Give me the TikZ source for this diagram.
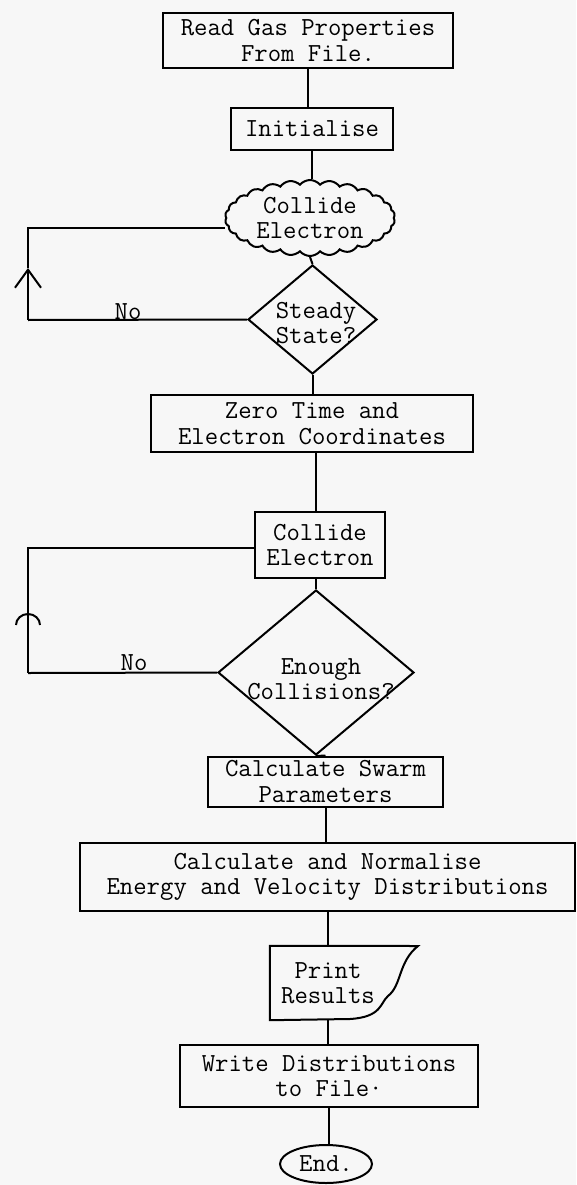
\documentclass[tikz,border=0pt]{standalone}
\usepackage{fontspec}
\usetikzlibrary{arrows.meta, shapes.geometric, shapes.symbols}

\tikzset{
  caja/.style={draw, line width=2pt, inner sep=0pt, align=center},
  rombo/.style={draw, diamond, line width=2pt, inner sep=0pt},
  texto/.style={inner sep=0pt, align=center},
  linea/.style={line width=2pt},
}

\begin{document}
\begin{tikzpicture}[x=1pt, y=-1pt, font=\ttfamily\fontsize{26}{25.5}\selectfont]
  \useasboundingbox (0,0) rectangle (576,1185);
  \fill[black!3] (0,0) rectangle (576,1185);

  % Dibujar nodos
  \node[caja, minimum width=290pt, minimum height=55pt] (leer) at (308,40.5) {Read Gas Properties\\From File.};
  \node[caja, minimum width=162pt, minimum height=42pt] (inicio) at (312,129) {Initialise};
  \node[caja, cloud, cloud puffs=26, cloud puff arc=100, cloud ignores aspect,
        minimum width=170pt, minimum height=76pt] (choque) at (310,218) {Collide\\Electron};
  \node[rombo, minimum width=129pt, minimum height=109pt] (estable) at (312.5,319.5) {};
  \node[texto] (establetxt) at (316,323) {Steady\\State?};
  \node[caja, minimum width=322pt, minimum height=57pt] (cero) at (312,423.5) {Zero Time and\\Electron Coordinates};
  \node[caja, minimum width=130pt, minimum height=66pt] (choque2) at (320,545) {Collide\\Electron};
  \node[rombo, minimum width=196pt, minimum height=165pt] (bastante) at (316,672.5) {};
  \node[texto] (bastantetxt) at (321,679) {Enough\\Collisions?};
  \node[caja, minimum width=235pt, minimum height=50pt] (enjambre) at (325.5,781.5) {Calculate Swarm\\Parameters};
  \node[caja, minimum width=495pt, minimum height=68pt] (normal) at (327.5,877) {Calculate and Normalise\\Energy and Velocity Distributions};
  \node[texto, minimum width=116pt, minimum height=74pt] (imprimir) at (328,983) {Print\\Results};
  \node[caja, minimum width=298pt, minimum height=62pt] (escribir) at (329,1076) {Write Distributions\\to File·};
  \node[caja, ellipse, minimum width=92pt, minimum height=38pt] (fin) at (326,1164) {End.};

  % Hoja de impresion
  \draw[linea] (imprimir.north west) -- (418,946)
    .. controls (398,962) and (402,985) .. (388,996)
    .. controls (380,1003) and (382,1017) .. (350,1019)
    -- (imprimir.south west) -- cycle;

  % Dibujar las lineas
  \draw[linea] (leer.south) -- (leer.south |- inicio.north);
  \draw[linea] (inicio.south) -- (inicio.south |- choque.north);
  \draw[linea] (choque.south) -- (estable.north);
  \draw[linea] (estable.south) -- (estable.south |- cero.north);
  \draw[linea] (cero.south -| bastante.north) -- (choque2.north -| bastante.north);
  \draw[linea] (choque2.south -| bastante.north) -- (bastante.north);
  \draw[linea] (bastante.south) -- (enjambre.north);
  \draw[linea] (enjambre.south) -- (enjambre.south |- normal.north);
  \draw[linea] (normal.south) -- (normal.south |- imprimir.north);
  \draw[linea] (imprimir.south) -- (imprimir.south |- escribir.north);
  \draw[linea] (escribir.south) -- (escribir.south |- fin.north);

  % Lazos de retorno
  \coordinate (ret1a) at (28,320);
  \coordinate (ret1b) at (28,268);
  \coordinate (ret1c) at (28,228);
  \draw[linea] (estable.west) -- (ret1a);
  \draw[linea, -{Straight Barb[length=18pt, width=26pt]}] (ret1a) -- (ret1b);
  \draw[linea] (ret1b) -- (ret1c) -- (ret1c -| choque.west);

  \coordinate (ret2a) at (28,673);
  \coordinate (ret2b) at (28,613);
  \coordinate (ret2c) at (28,548);
  \draw[linea] (bastante.west) -- (ret2a);
  \draw[linea, -{Arc Barb[length=12pt, width=26pt]}] (ret2a) -- (ret2b);
  \draw[linea] (ret2b) -- (ret2c) -- (ret2c -| choque2.west);

  % Etiquetas
  \node[anchor=base, inner sep=0pt] (no1) at (128,319) {No};
  \node[anchor=base, inner sep=0pt] (no2) at (134,670) {No};

\end{tikzpicture}
\end{document}
